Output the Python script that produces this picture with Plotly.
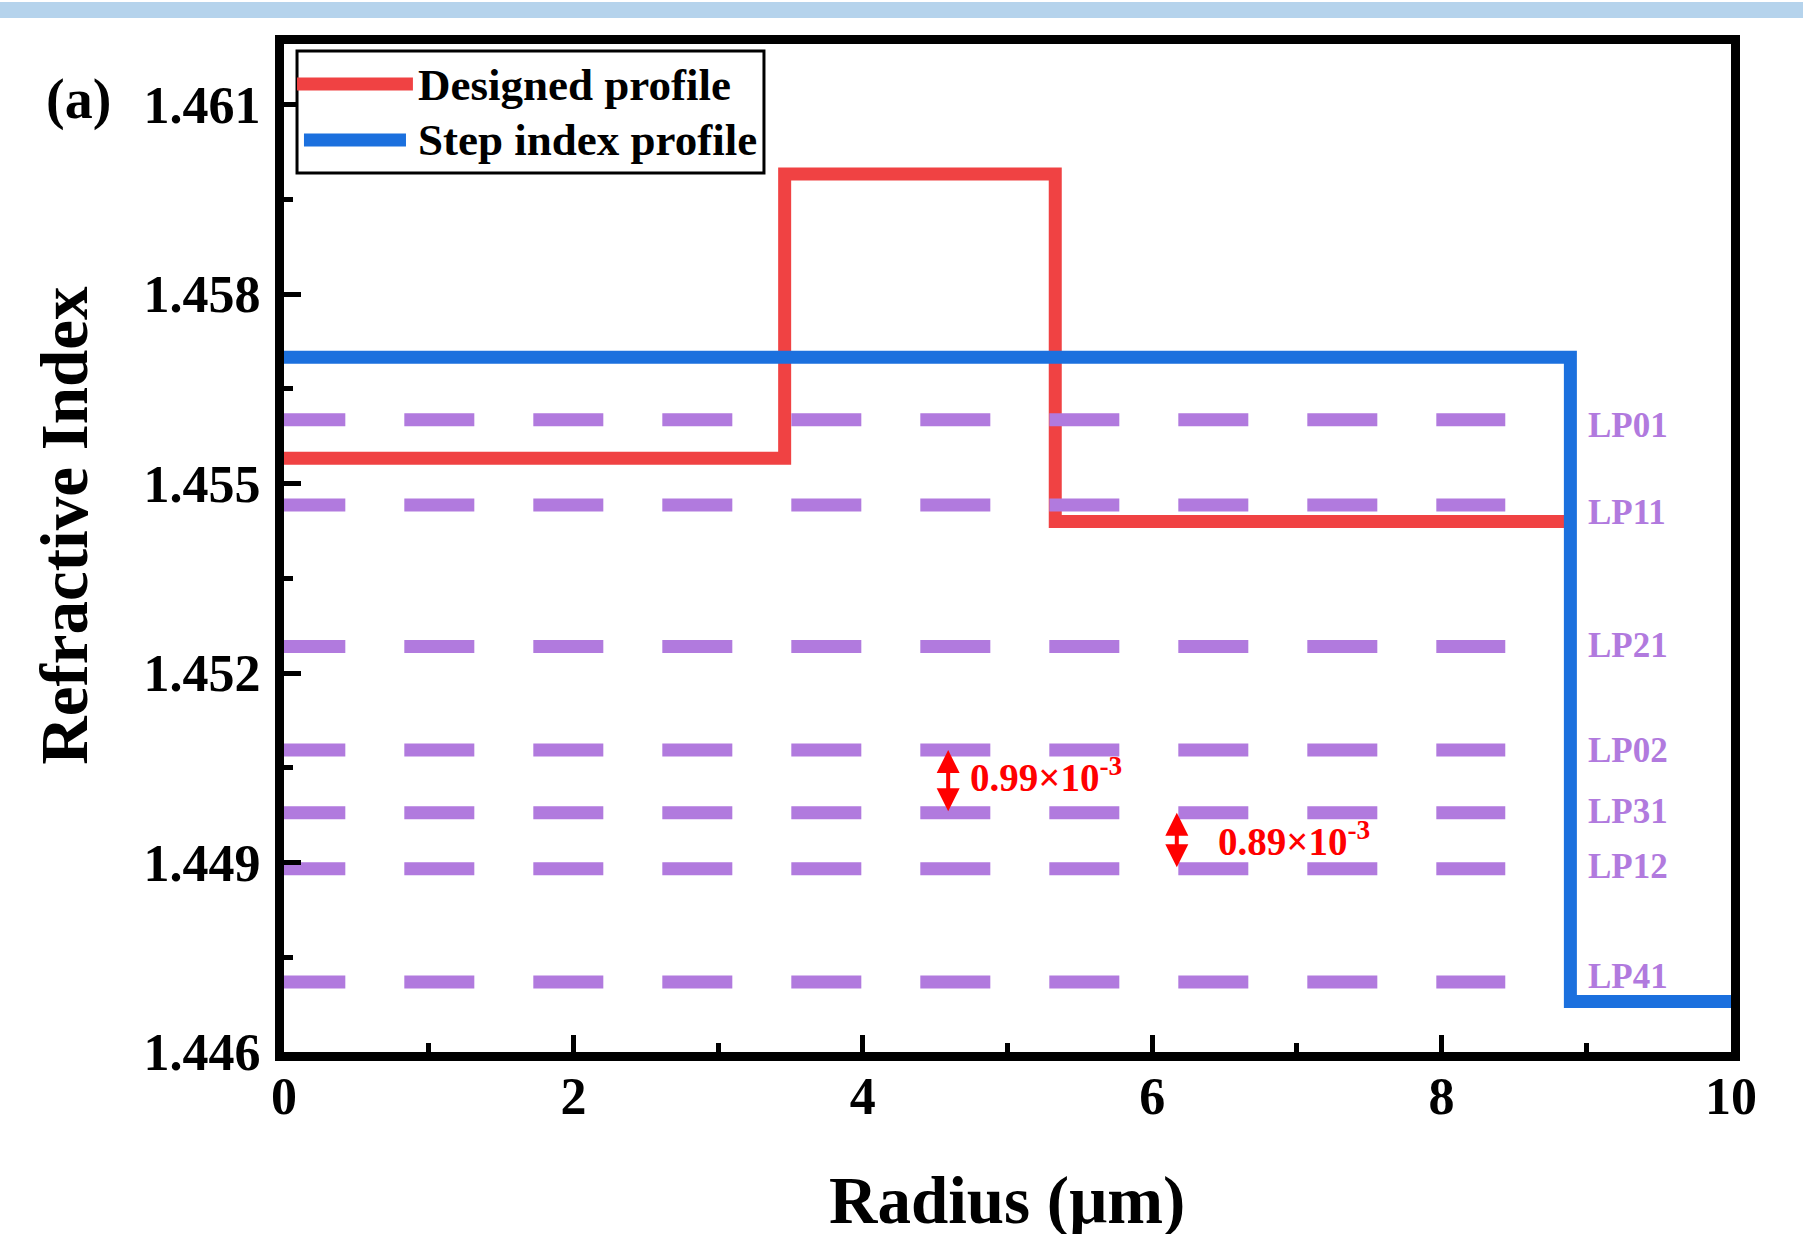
import plotly.graph_objects as go

# ---------------- data ----------------
designed_r = [0.0, 3.46, 5.33, 8.89]
designed_n = [1.4554, 1.4599, 1.4544, 1.4544]

step_r = [0.0, 8.89, 10.0]
step_n = [1.4570, 1.4468, 1.4468]

mode_names = ["LP01", "LP11", "LP21", "LP02", "LP31", "LP12", "LP41"]
mode_neff = [1.45601, 1.45466, 1.45242, 1.45078, 1.44979, 1.44890, 1.44711]
mode_r_span = [-0.06, 8.44]
mode_label_r = 9.0

# spacing markers between neighbouring modes
gap_values = [0.99, 0.89]
gap_pairs = [("LP02", "LP31"), ("LP31", "LP12")]
gap_arrow_r = [4.59, 6.17]
gap_label_r = [4.73, 6.44]
gap_label_n = [1.45038, 1.44937]

x_ticks = [0, 2, 4, 6, 8, 10]
y_ticks = [1.446, 1.449, 1.452, 1.455, 1.458, 1.461]

series_names = ["Designed profile", "Step index profile"]

RED = "#F04243"
BLUE = "#1B70DE"
PURPLE = "#B17ADE"
FONT = "Liberation Serif"

# small vertical pixel nudges of the mode labels (style only)
label_yshift = [-6, -7, 1, 0, 1, 2, 5]

fig = go.Figure()

fig.add_trace(go.Scatter(
    x=designed_r, y=designed_n, mode="lines", line_shape="hv",
    line=dict(color=RED, width=13), name=series_names[0], showlegend=False))
fig.add_trace(go.Scatter(
    x=step_r, y=step_n, mode="lines", line_shape="hv",
    line=dict(color=BLUE, width=13), name=series_names[1], showlegend=False))

for name, n, ys in zip(mode_names, mode_neff, label_yshift):
    fig.add_trace(go.Scatter(
        x=mode_r_span, y=[n, n], mode="lines", name=name,
        line=dict(color=PURPLE, width=13, dash="70px,59px"),
        showlegend=False, hoverinfo="skip"))
    fig.add_annotation(
        x=mode_label_r, y=n, text=name, showarrow=False, yshift=ys,
        xanchor="left", yanchor="middle",
        font=dict(family=FONT, size=35, color=PURPLE, weight="bold"))

neff_of = dict(zip(mode_names, mode_neff))
for val, (up, lo), ar, lr, ln in zip(gap_values, gap_pairs, gap_arrow_r, gap_label_r, gap_label_n):
    fig.add_annotation(
        x=ar, y=neff_of[up], ax=ar, ay=neff_of[lo], xref="x", yref="y",
        axref="x", ayref="y", text="", showarrow=True,
        arrowhead=2, startarrowhead=2, arrowside="end+start",
        arrowsize=1.15, startarrowsize=1.15, arrowwidth=4, arrowcolor="#FF0000")
    fig.add_annotation(
        x=lr, y=ln, text=f"{val:.2f}×10<sup>-3</sup>", showarrow=False,
        xanchor="left", yanchor="middle",
        font=dict(family=FONT, size=39, color="#FF0000", weight="bold"))

# ---------------- legend (boxed, top-left) ----------------
fig.add_shape(type="rect", xref="paper", yref="paper",
              x0=0.009, x1=0.3317, y0=0.872, y1=0.993,
              fillcolor="white", line=dict(color="black", width=3), layer="above")
legend_rows = [(RED, 0.009, 0.0891, 0.9603, 0.9593),
               (BLUE, 0.0138, 0.0843, 0.9048, 0.9048)]
for (color, lx0, lx1, ly, ty), label in zip(legend_rows, series_names):
    fig.add_shape(type="line", xref="paper", yref="paper",
                  x0=lx0, x1=lx1, y0=ly, y1=ly,
                  line=dict(color=color, width=13), layer="above")
    fig.add_annotation(
        xref="paper", yref="paper", x=0.0915, y=ty, text=label, showarrow=False,
        xanchor="left", yanchor="middle",
        font=dict(family=FONT, size=45, color="black", weight="bold"))

# panel label and axis titles
fig.add_annotation(
    xref="paper", yref="paper", x=-0.166, y=0.9454, text="(a)", showarrow=False,
    xanchor="left", yanchor="middle",
    font=dict(family=FONT, size=56, color="black", weight="bold"))
fig.add_annotation(
    xref="paper", yref="paper", x=-0.152, y=0.5222, text="Refractive Index",
    showarrow=False, textangle=-90, xanchor="center", yanchor="middle",
    font=dict(family=FONT, size=67, color="black", weight="bold"))
fig.add_annotation(
    xref="paper", yref="paper", x=0.4995, y=-0.1478, text="Radius (μm)",
    showarrow=False, xanchor="center", yanchor="middle",
    font=dict(family=FONT, size=67, color="black", weight="bold"))

# light-blue strip at the very top (cropped figure above)
fig.add_shape(type="rect", xref="paper", yref="paper",
              x0=-0.2, x1=1.06, y0=1.0258, y1=1.0417,
              fillcolor="#B5D3EC", line=dict(width=0), layer="below")

axis_common = dict(
    showline=True, linecolor="black", linewidth=9, mirror=True,
    ticks="inside", tickcolor="black", tickwidth=5, ticklen=17,
    showgrid=False, zeroline=False, automargin=False,
    tickfont=dict(family=FONT, size=52, color="black", weight="bold"),
)

fig.update_xaxes(
    range=[0, 10], tickvals=x_ticks, ticktext=[str(v) for v in x_ticks],
    minor=dict(dtick=1, tick0=0, ticks="inside", ticklen=9, tickwidth=5,
               tickcolor="black", showgrid=False),
    ticklabelstandoff=-9,
    **axis_common)
fig.update_yaxes(
    range=[1.446, 1.46196], tickvals=y_ticks, ticktext=[f"{v:.3f}" for v in y_ticks],
    minor=dict(dtick=0.0015, tick0=1.446, ticks="inside", ticklen=9, tickwidth=5,
               tickcolor="black", showgrid=False),
    ticklabelstandoff=4,
    **axis_common)

fig.update_layout(
    template="none",
    width=1803, height=1234,
    margin=dict(l=284, r=72, t=44, b=182, pad=0, autoexpand=False),
    paper_bgcolor="white", plot_bgcolor="white",
    showlegend=False,
)

fig.write_html("out.html", config={"displayModeBar": False},
               post_script="document.body.style.margin='0px';")
